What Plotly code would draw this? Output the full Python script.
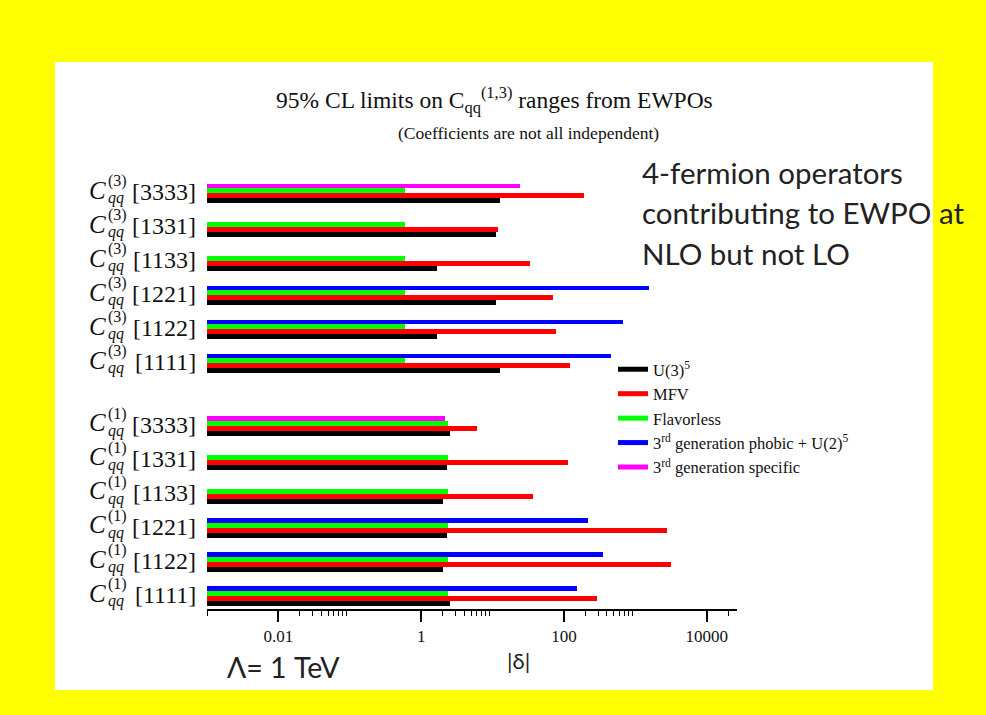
import plotly.graph_objects as go

# ---------------- data ----------------
ops = ["3333", "1331", "1133", "1221", "1122", "1111"]   # top to bottom within each block

u3_c3      = [12.6, 11.0, 1.67, 11.0, 1.67, 12.6]
mfv_c3     = [188, 11.8, 33, 70, 78, 120]
flav_c3    = [0.60, 0.60, 0.60, 0.60, 0.60, 0.60]
phobic_c3  = [None, None, None, 1575, 682, 454]
spec_c3    = [23.9, None, None, None, None, None]

u3_c1      = [2.57, 2.3, 2.04, 2.3, 2.04, 2.57]
mfv_c1     = [6.1, 114, 36.7, 2793, 3127, 288]
flav_c1    = [2.4, 2.4, 2.4, 2.4, 2.4, 2.4]
phobic_c1  = [None, None, None, 219, 356, 151]
spec_c1    = [2.19, None, None, None, None, None]

series_names = ["U(3)<sup>5</sup>", "MFV", "Flavorless",
                "3<sup>rd</sup> generation phobic + U(2)<sup>5</sup>",
                "3<sup>rd</sup> generation specific"]
xtick_vals = [0.01, 1, 100, 10000]
xtick_text = ["0.01", "1", "100", "10000"]

# ---------------- layout helpers ----------------
n = len(ops)
GAP = 0.85
# C1 block at bottom (1111 at 0), C3 block above
y_c1 = [n - 1 - i for i in range(n)]
y_c3 = [n - 1 - i + n + GAP for i in range(n)]
ypos = y_c3 + y_c1

def cat(a, b):
    return list(a) + list(b)

series = [
    (cat(u3_c3, u3_c1), "#000000", -0.28),
    (cat(mfv_c3, mfv_c1), "#FF0000", -0.14),
    (cat(flav_c3, flav_c1), "#00FF00", 0.0),
    (cat(phobic_c3, phobic_c1), "#0000FF", 0.14),
    (cat(spec_c3, spec_c1), "#FF00FF", 0.14),
]
SLOT = 0.14

fig = go.Figure()
for vals, col, off in series:
    fig.add_trace(go.Bar(x=vals, y=ypos, orientation="h", marker=dict(color=col, line=dict(width=0)),
                         width=SLOT, offset=off, showlegend=False, hoverinfo="skip"))
for (vals, col, off), name in zip(series, series_names):
    fig.add_trace(go.Scatter(x=[None], y=[None], mode="lines", line=dict(color=col, width=5),
                             name=name))

L, R, T, B = 207, 249, 175, 106
W = 986 - L - R
H = 715 - T - B

def px(xp):
    return (xp - L) / W

def py(yp):
    return (715 - B - yp) / H

minor_vals = [0.001] + [k * 0.01 for k in range(2, 10)] + [float(k) for k in range(2, 10)] + \
             [k * 100.0 for k in range(2, 10)] + [20000.0]

serif = "Liberation Serif"
sans = "Lato"

annotations = []
# row labels
for i, op in enumerate(ops):
    for yv, sup in ((y_c3[i], "(3)"), (y_c1[i], "(1)")):
        annotations += [
            dict(x=0, y=yv, xref="paper", yref="y", text="<i>C</i>", showarrow=False,
                 xanchor="right", yanchor="middle", xshift=-99, yshift=3,
                 font=dict(family=serif, size=25, color="#111")),
            dict(x=0, y=yv, xref="paper", yref="y", text=sup, showarrow=False,
                 xanchor="left", yanchor="middle", xshift=-101, yshift=12,
                 font=dict(family=serif, size=16, color="#111")),
            dict(x=0, y=yv, xref="paper", yref="y", text="<i>qq</i>", showarrow=False,
                 xanchor="left", yanchor="middle", xshift=-101, yshift=-5,
                 font=dict(family=serif, size=16, color="#111")),
            dict(x=0, y=yv, xref="paper", yref="y", text="[" + op + "]", showarrow=False,
                 xanchor="right", yanchor="middle", xshift=-9, yshift=1,
                 font=dict(family=serif, size=24, color="#111")),
        ]

annotations += [
    dict(x=px(494), y=py(100), xref="paper", yref="paper", showarrow=False,
         text="95% CL limits on C<sub>qq</sub><sup>(1,3)</sup> ranges from EWPOs",
         xanchor="center", yanchor="middle", font=dict(family=serif, size=23.5, color="#111")),
    dict(x=px(528), y=py(133), xref="paper", yref="paper", showarrow=False,
         text="(Coefficients are not all independent)",
         xanchor="center", yanchor="middle", font=dict(family=serif, size=17.5, color="#111")),
    dict(x=px(640), y=py(172), xref="paper", yref="paper", showarrow=False,
         text="4-fermion operators", xanchor="left", yanchor="middle",
         font=dict(family=sans, size=29.5, color="#222")),
    dict(x=px(640), y=py(213), xref="paper", yref="paper", showarrow=False,
         text="contributing to EWPO at", xanchor="left", yanchor="middle",
         font=dict(family=sans, size=29.5, color="#222")),
    dict(x=px(640), y=py(253), xref="paper", yref="paper", showarrow=False,
         text="NLO but not LO", xanchor="left", yanchor="middle",
         font=dict(family=sans, size=29.5, color="#222")),
    dict(x=px(225), y=py(667), xref="paper", yref="paper", showarrow=False,
         text="Λ= 1 TeV", xanchor="left", yanchor="middle",
         font=dict(family=sans, size=28.5, color="#222")),
    dict(x=px(518), y=py(660), xref="paper", yref="paper", showarrow=False,
         text="|δ|", xanchor="center", yanchor="middle",
         font=dict(family=sans, size=22, color="#222")),
]

shapes = [dict(type="rect", xref="paper", yref="paper", x0=px(55), x1=px(933),
               y0=py(690), y1=py(62), fillcolor="white", line=dict(width=0), layer="below")]

fig.update_layout(
    width=986, height=715,
    margin=dict(l=L, r=R, t=T, b=B, autoexpand=False),
    paper_bgcolor="#FFFF00", plot_bgcolor="white",
    barmode="overlay",
    bargap=0,
    shapes=shapes,
    annotations=annotations,
    showlegend=True,
    legend=dict(x=px(613), y=py(352), xanchor="left", yanchor="top",
                bgcolor="rgba(0,0,0,0)", font=dict(family=serif, size=16.5, color="#111"),
                tracegroupgap=0, itemwidth=30),
    xaxis=dict(type="log", range=[-3, 4.424], showgrid=False, zeroline=False,
               showline=True, linecolor="black", linewidth=1.5,
               ticks="outside", ticklen=11, tickwidth=1.5, tickcolor="black",
               tickmode="array", tickvals=xtick_vals, ticktext=xtick_text,
               tickfont=dict(family=serif, size=17, color="#111"),
               minor=dict(tickmode="array", tickvals=minor_vals, ticks="outside",
                          ticklen=5, tickwidth=1.2, tickcolor="black", showgrid=False)),
    yaxis=dict(range=[-0.382, 12.38], showgrid=False, zeroline=False, showline=False,
               showticklabels=False, ticks=""),
)

fig.write_html("out.html")
